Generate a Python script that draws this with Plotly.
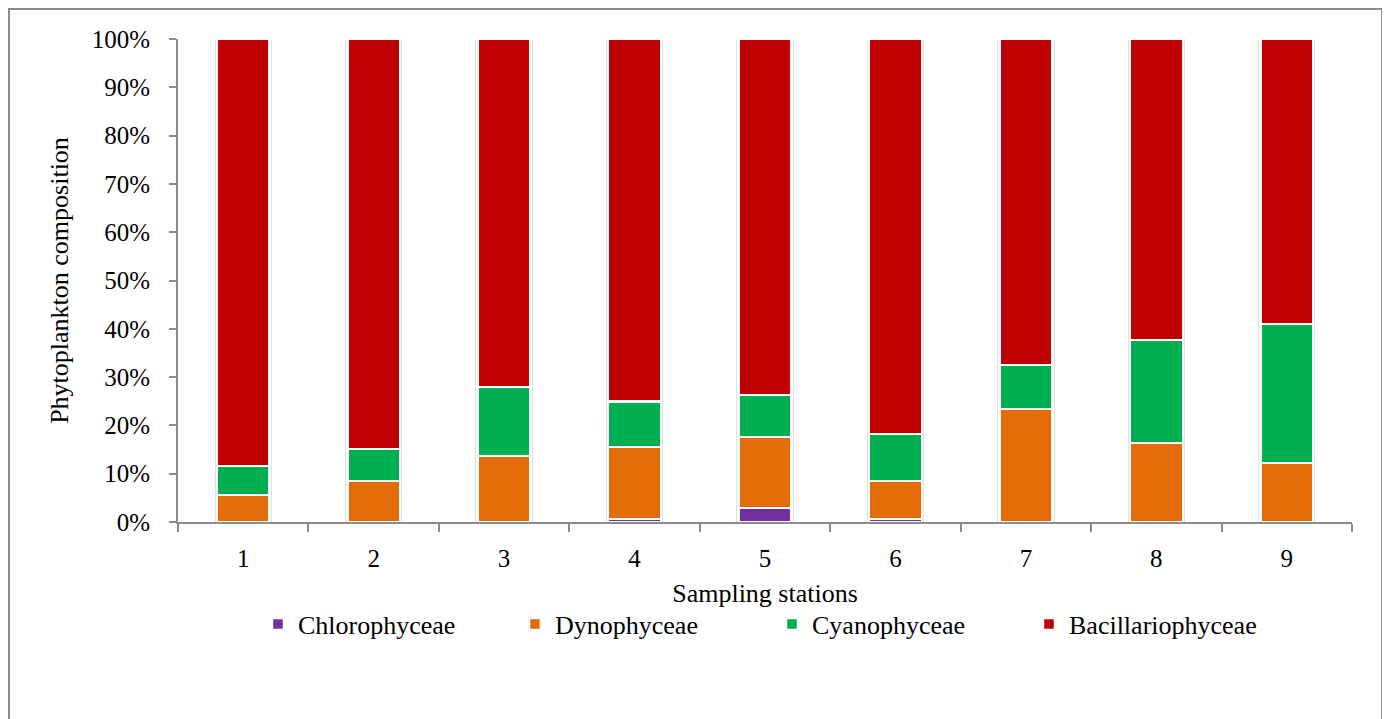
import plotly.graph_objects as go

stations = ["1", "2", "3", "4", "5", "6", "7", "8", "9"]
chlorophyceae = [0, 0, 0, 0.6, 2.9, 0.6, 0, 0, 0]
dynophyceae = [5.6, 8.5, 13.7, 14.9, 14.7, 7.9, 23.4, 16.4, 12.2]
cyanophyceae = [6.0, 6.6, 14.3, 9.5, 8.7, 9.7, 9.1, 21.3, 28.8]
bacillariophyceae = [88.4, 84.9, 72.0, 75.0, 73.7, 81.8, 67.5, 62.3, 59.0]

series = [
    ("Chlorophyceae", chlorophyceae, "#7030A0"),
    ("Dynophyceae", dynophyceae, "#E36C09"),
    ("Cyanophyceae", cyanophyceae, "#00B050"),
    ("Bacillariophyceae", bacillariophyceae, "#C00000"),
]

FONT = "Liberation Serif, Times New Roman, serif"
W, H = 1382, 711          # page adds 8px body margin
L, R, T, B = 170, 38, 31, 197
PW, PH = W - L - R, H - T - B

fig = go.Figure()

# subtle shadow behind each stacked column
totals = [c + d + cy + b for c, d, cy, b in zip(chlorophyceae, dynophyceae, cyanophyceae, bacillariophyceae)]
fig.add_trace(go.Bar(
    x=stations, y=totals, width=0.44, showlegend=False, hoverinfo="skip",
    marker=dict(color="#e0e0e0", line=dict(width=0)), xaxis="x", yaxis="y",
))

for name, vals, col in series:
    fig.add_trace(go.Bar(
        x=stations, y=vals, name=name, width=0.405,
        marker=dict(color=col, line=dict(color="white", width=2.5)),
        xaxis="x2", yaxis="y",
    ))

fig.update_layout(
    barmode="stack",
    width=W, height=H,
    margin=dict(l=L, r=R, t=T, b=B),
    paper_bgcolor="white", plot_bgcolor="white",
    font=dict(family=FONT, size=25, color="black"),
    showlegend=True,
    legend=dict(
        orientation="h", x=(250 - L) / PW, xanchor="left", y=-(617 - 514 - 1) / PH, yanchor="middle",
        font=dict(family=FONT, size=26, color="black"),
        traceorder="normal", entrywidth=212, itemwidth=30,
        bgcolor="rgba(0,0,0,0)",
    ),
    xaxis=dict(
        type="category", categoryorder="array", categoryarray=stations,
        showline=True, linecolor="#8c8c8c", linewidth=2,
        ticks="outside", tickson="boundaries", ticklen=8, tickcolor="#8c8c8c", tickwidth=2,
        tickfont=dict(family=FONT, size=25, color="black"),
        ticklabelstandoff=13,
        title=dict(text="Sampling stations", standoff=13,
                   font=dict(family=FONT, size=26, color="black")),
        showgrid=False,
    ),
    xaxis2=dict(
        type="category", categoryorder="array", categoryarray=stations,
        overlaying="x", matches="x", visible=False,
    ),
    yaxis=dict(
        range=[0, 100], dtick=10, ticksuffix="%",
        showline=True, linecolor="#8c8c8c", linewidth=2,
        ticks="outside", ticklen=7, tickcolor="#8c8c8c", tickwidth=2,
        tickfont=dict(family=FONT, size=25, color="black"),
        ticklabelstandoff=14,
        title=dict(text="Phytoplankton composition", standoff=16,
                   font=dict(family=FONT, size=26, color="black")),
        showgrid=False, zeroline=False,
    ),
)

fig.add_shape(type="rect", xref="paper", yref="paper",
              x0=(1 - L) / PW, x1=(1374 - L) / PW, y0=-(730 - 514) / PH, y1=(514 - 1) / PH,
              line=dict(color="#8c8c8c", width=2), fillcolor="rgba(0,0,0,0)", layer="below")

fig.write_html("out.html")
